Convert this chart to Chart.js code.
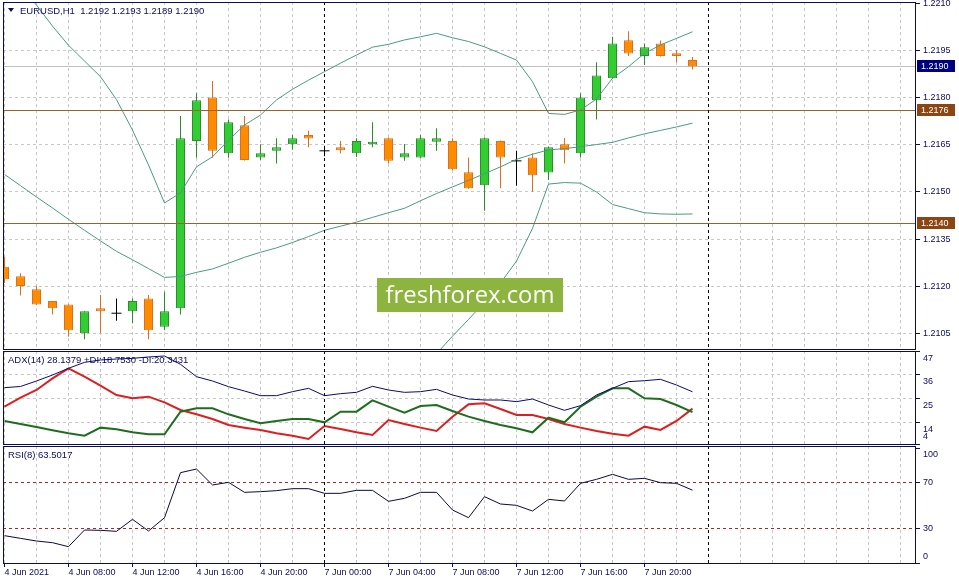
<!DOCTYPE html>
<html lang="en">
<head>
<meta charset="UTF-8">
<title>EURUSD,H1</title>
<script src="https://cdn.jsdelivr.net/npm/chart.js"></script>
<style>
    html, body { margin: 0; padding: 0; background: #ffffff; }
    #wrap { position: relative; width: 959px; height: 585px; overflow: hidden; background: #ffffff; }
    canvas { position: absolute; left: 0; }
</style>
</head>
<body>
<div id="wrap">
    <canvas id="mainChart" width="959" height="351" style="top:0"></canvas>
    <canvas id="adxChart" width="959" height="95" style="top:351px"></canvas>
    <canvas id="rsiChart" width="959" height="139" style="top:446px"></canvas>
</div>
<script>
// ---- data (H1 bars, 4 Jun 2021 04:00 .. 7 Jun 2021 23:00) ----
const xTickLabels = ['4 Jun 2021', '4 Jun 08:00', '4 Jun 12:00', '4 Jun 16:00', '4 Jun 20:00',
    '7 Jun 00:00', '7 Jun 04:00', '7 Jun 08:00', '7 Jun 12:00', '7 Jun 16:00', '7 Jun 20:00'];
const xTickBars = [0, 4, 8, 12, 16, 20, 24, 28, 32, 36, 40];
const daySeparators = [20, 44];

const opens = [1.21262, 1.21232, 1.21190, 1.21153, 1.21142, 1.21050, 1.21130, 1.21114, 1.21120, 1.21161,
    1.21071, 1.21130, 1.21662, 1.21801, 1.21623, 1.21712, 1.21610, 1.21631, 1.21652, 1.21681,
    1.21631, 1.21642, 1.21623, 1.21652, 1.21671, 1.21610, 1.21610, 1.21660, 1.21662, 1.21563,
    1.21521, 1.21662, 1.21599, 1.21610, 1.21562, 1.21652, 1.21623, 1.21792, 1.21862, 1.21983,
    1.21933, 1.21973, 1.21942, 1.21920];
const highs = [1.21294, 1.21241, 1.21201, 1.21153, 1.21142, 1.21120, 1.21172, 1.21161, 1.21161, 1.21172,
    1.21182, 1.21742, 1.21814, 1.21853, 1.21731, 1.21742, 1.21652, 1.21671, 1.21681, 1.21695,
    1.21647, 1.21662, 1.21671, 1.21722, 1.21673, 1.21653, 1.21681, 1.21703, 1.21671, 1.21610,
    1.21673, 1.21664, 1.21631, 1.21623, 1.21644, 1.21672, 1.21814, 1.21913, 1.21994, 1.22012,
    1.21973, 1.21982, 1.21952, 1.21930];
const lows = [1.21210, 1.21170, 1.21140, 1.21110, 1.21039, 1.21031, 1.21050, 1.21090, 1.21082, 1.21031,
    1.21060, 1.21110, 1.21609, 1.21609, 1.21609, 1.21600, 1.21602, 1.21591, 1.21634, 1.21642,
    1.21614, 1.21623, 1.21611, 1.21642, 1.21591, 1.21599, 1.21608, 1.21631, 1.21570, 1.21510,
    1.21440, 1.21512, 1.21520, 1.21501, 1.21538, 1.21591, 1.21610, 1.21731, 1.21860, 1.21933,
    1.21904, 1.21931, 1.21913, 1.21890];
const closes = [1.21222, 1.21201, 1.21142, 1.21130, 1.21060, 1.21120, 1.21120, 1.21114, 1.21153, 1.21060,
    1.21120, 1.21671, 1.21792, 1.21631, 1.21722, 1.21602, 1.21623, 1.21642, 1.21671, 1.21670,
    1.21631, 1.21633, 1.21662, 1.21660, 1.21599, 1.21623, 1.21671, 1.21671, 1.21572, 1.21512,
    1.21671, 1.21610, 1.21599, 1.21553, 1.21642, 1.21633, 1.21801, 1.21871, 1.21973, 1.21941,
    1.21961, 1.21933, 1.21933, 1.21900];

const bbUpper = [1.22223, 1.22156, 1.22095, 1.22028, 1.21967, 1.21917, 1.21867, 1.21794, 1.21697, 1.21586,
    1.21465, 1.21497, 1.21580, 1.21612, 1.21665, 1.21713, 1.21745, 1.21793, 1.21827, 1.21856,
    1.21883, 1.21910, 1.21936, 1.21961, 1.21970, 1.21984, 1.21994, 1.22005, 1.21991, 1.21979,
    1.21962, 1.21941, 1.21920, 1.21851, 1.21750, 1.21747, 1.21761, 1.21796, 1.21862, 1.21899,
    1.21941, 1.21968, 1.21989, 1.22010];
const bbMiddle = [1.21556, 1.21520, 1.21484, 1.21449, 1.21413, 1.21378, 1.21344, 1.21311, 1.21284, 1.21256,
    1.21228, 1.21231, 1.21244, 1.21255, 1.21273, 1.21292, 1.21308, 1.21322, 1.21339, 1.21358,
    1.21378, 1.21391, 1.21404, 1.21419, 1.21434, 1.21448, 1.21472, 1.21495, 1.21516, 1.21537,
    1.21558, 1.21580, 1.21604, 1.21620, 1.21634, 1.21638, 1.21644, 1.21651, 1.21658, 1.21672,
    1.21685, 1.21696, 1.21707, 1.21719];
const bbLower = [1.20889, 1.20884, 1.20873, 1.20870, 1.20859, 1.20839, 1.20821, 1.20828, 1.20871, 1.20926,
    1.20991, 1.20965, 1.20908, 1.20898, 1.20881, 1.20871, 1.20871, 1.20851, 1.20851, 1.20860,
    1.20873, 1.20872, 1.20872, 1.20877, 1.20898, 1.20912, 1.20950, 1.20985, 1.21041, 1.21094,
    1.21150, 1.21210, 1.21280, 1.21384, 1.21525, 1.21530, 1.21528, 1.21500, 1.21460, 1.21447,
    1.21434, 1.21430, 1.21429, 1.21430];

const adx = [30.05, 30.6, 33.13, 35.9, 38.99, 41.76, 42.84, 43.3, 43.61, 44.23,
    44.69, 40.84, 35.13, 33.13, 30.51, 28.5, 26.35, 26.35, 28.2, 29.74,
    26.35, 27.27, 27.89, 30.66, 28.97, 27.89, 28.2, 29.27, 26.66, 24.81,
    24.35, 24.35, 23.58, 24.81, 22.03, 19.57, 21.73, 26.66, 29.74, 32.82,
    33.28, 33.9, 31.28, 28.1379];
const plusDI = [14.64, 13.25, 11.86, 10.32, 8.93, 7.86, 11.56, 10.78, 9.40, 8.47,
    8.47, 18.95, 20.49, 20.49, 17.72, 15.56, 13.56, 14.64, 15.56, 15.56,
    14.02, 18.95, 18.95, 24.19, 21.26, 18.49, 21.57, 22.03, 19.26, 16.64,
    14.64, 12.79, 11.25, 9.40, 16.18, 14.02, 21.26, 25.89, 29.74, 29.74,
    25.12, 24.81, 22.03, 18.7530];
const minusDI = [21.26, 25.42, 28.97, 34.36, 38.99, 35.13, 30.97, 26.66, 25.12, 25.89,
    23.27, 19.72, 17.72, 15.56, 12.79, 11.56, 10.48, 8.93, 7.86, 6.32,
    12.32, 10.94, 9.40, 8.16, 15.10, 13.25, 11.56, 10.01, 16.64, 22.34,
    22.80, 20.18, 17.41, 17.41, 15.56, 13.25, 11.56, 10.01, 8.78, 7.86,
    12.02, 10.48, 14.64, 20.3431];
const rsi = [23.94, 21.6, 19.3, 17.85, 14.37, 28.87, 28.58, 27.71, 38.14, 28.0,
    39.59, 78.72, 81.91, 68.0, 70.32, 61.62, 62.2, 63.07, 64.81, 64.81,
    60.75, 60.75, 63.36, 63.36, 53.8, 56.4, 61.62, 61.62, 46.26, 39.59,
    57.85, 51.48, 50.32, 45.39, 55.53, 54.09, 69.45, 72.93, 77.27, 72.93,
    73.8, 70.03, 69.45, 63.5017];

const priceTicks = [1.2105, 1.2120, 1.2135, 1.2150, 1.2165, 1.2180, 1.2195, 1.2210];
const adxTicks = [4, 14, 25, 36, 47];
const rsiTicks = [0, 30, 70, 100];
const rsiLevels = [30, 70];
const hLevels = [1.2176, 1.2140];
const bidPrice = 1.2190;

// ---- look ----
const NAVY = '#0b0b5e';
const GRID = '#c8c8c8';
const BROWN = '#8b4513';
const LEVEL_LINE = '#9a6228';
const BULL = '#32cd32', BULL_EDGE = '#2e8b2e';
const BEAR = '#ff8c00', BEAR_EDGE = '#d9701c';
const BAND = '#4a9a86';
const FONT = '"Liberation Sans", Arial, sans-serif';
const NONE = 'rgba(0,0,0,0)';

Chart.defaults.font.family = FONT;
Chart.defaults.font.size = 9;
Chart.defaults.color = NAVY;
Chart.defaults.animation = false;
Chart.defaults.events = [];
Chart.defaults.plugins.legend.display = false;
Chart.defaults.plugins.tooltip.enabled = false;

// bar centre lands on half pixels so 1px wicks stay sharp
const X_MIN = -0.09375;
const X_MAX = X_MIN + 913 / 16;
const gridBars = [];
for (let b = 0; b <= 56; b += 2) gridBars.push(b);

const pts = arr => arr.map((v, i) => ({ x: i, y: v }));

function xScale(showLabels) {
    return {
        type: 'linear', min: X_MIN, max: X_MAX, offset: false,
        afterBuildTicks: s => { s.ticks = gridBars.map(v => ({ value: v })); },
        grid: {
            color: GRID, offset: false, drawTicks: showLabels, tickLength: 3,
            tickColor: c => xTickBars.includes(c.tick && c.tick.value) ? NAVY : NONE
        },
        border: { display: false, dash: [3, 3] },
        ticks: {
            display: showLabels, autoSkip: false, maxRotation: 0, minRotation: 0,
            align: 'start', padding: 0, color: NAVY,
            callback: v => { const k = xTickBars.indexOf(v); return k < 0 ? '' : xTickLabels[k]; }
        },
        afterFit: s => {
            s.height = showLabels ? 21 : 0;
            s.paddingLeft = 0; s.paddingRight = 0;
        }
    };
}

function yScale(min, max, ticks, label, gridColor, lineHeight) {
    return {
        position: 'right', min, max,
        afterBuildTicks: s => { s.ticks = ticks.map(v => ({ value: v })); },
        grid: { color: gridColor, tickLength: 4, tickColor: NAVY },
        border: { display: false, dash: [3, 3] },
        ticks: {
            color: NAVY, padding: 3, autoSkip: false,
            font: { size: 9, lineHeight: lineHeight || 1.2 }, callback: label
        },
        afterFit: s => {
            s.width = 43;
            s.paddingTop = 0; s.paddingBottom = 0;
        }
    };
}

function panelPlugin(title, titleX, extra) {
    extra = extra || {};
    return {
        id: 'panel',
        beforeDatasetsDraw(chart) { if (extra.before) extra.before(chart); },
        afterDatasetsDraw(chart) {
            const { ctx, chartArea: a, scales: { x } } = chart;
            ctx.save();
            ctx.beginPath();
            ctx.rect(a.left, a.top, a.right - a.left, a.bottom - a.top);
            ctx.clip();
            if (extra.after) extra.after(chart);
            ctx.strokeStyle = '#000000';
            ctx.lineWidth = 1;
            ctx.setLineDash([3, 3]);
            daySeparators.forEach(b => {
                const px = Math.round(x.getPixelForValue(b) - 0.5) + 0.5;
                ctx.beginPath(); ctx.moveTo(px, a.top); ctx.lineTo(px, a.bottom); ctx.stroke();
            });
            ctx.restore();
        },
        afterDraw(chart) {
            const { ctx, chartArea: a } = chart;
            ctx.save();
            ctx.strokeStyle = NAVY;
            ctx.lineWidth = 1;
            ctx.strokeRect(a.left + 0.5, a.top + 0.5, a.right - a.left - 1, a.bottom - a.top - 1);
            ctx.fillStyle = NAVY;
            ctx.font = '9.5px ' + FONT;
            ctx.textBaseline = 'middle';
            ctx.fillText(title, a.left + titleX, a.top + 9.5);
            ctx.restore();
            if (extra.last) extra.last(chart);
        }
    };
}

function axisBox(chart, value, color) {
    const { ctx, chartArea: a, scales: { y } } = chart;
    const py = Math.round(y.getPixelForValue(value));
    ctx.save();
    ctx.fillStyle = color;
    ctx.fillRect(a.right + 1, py - 6, 38, 12);
    ctx.fillStyle = '#ffffff';
    ctx.font = '9px ' + FONT;
    ctx.textBaseline = 'middle';
    ctx.fillText(value.toFixed(4), a.right + 5, py + 0.5);
    ctx.restore();
}

// ---- main price panel ----
const isDoji = i => opens[i] === closes[i];
const bars = opens.map((o, i) => i);

new Chart(document.getElementById('mainChart'), {
    type: 'bar',
    data: {
        datasets: [
            { type: 'line', data: pts(bbUpper), borderColor: BAND, borderWidth: 1, pointRadius: 0, order: 0 },
            { type: 'line', data: pts(bbMiddle), borderColor: BAND, borderWidth: 1, pointRadius: 0, order: 0 },
            { type: 'line', data: pts(bbLower), borderColor: BAND, borderWidth: 1, pointRadius: 0, order: 0 },
            {
                type: 'line', showLine: false, order: 1,
                data: bars.filter(isDoji).map(i => ({ x: i, y: closes[i] })),
                pointStyle: 'line', pointRadius: 5, pointBorderColor: '#000000', pointBorderWidth: 1
            },
            {
                label: 'body', order: 2, grouped: false, barThickness: 9, borderWidth: 1,
                borderSkipped: false, inflateAmount: 0,
                data: bars.filter(i => !isDoji(i)).map(i => ({ x: i, y: [opens[i], closes[i]] })),
                backgroundColor: c => c.raw && c.raw.y[1] > c.raw.y[0] ? BULL : BEAR,
                borderColor: c => c.raw && c.raw.y[1] > c.raw.y[0] ? BULL_EDGE : BEAR_EDGE
            },
            {
                label: 'wick', order: 3, grouped: false, barThickness: 1, borderWidth: 0, inflateAmount: 0,
                data: bars.map(i => ({ x: i, y: [lows[i], highs[i]] })),
                backgroundColor: c => {
                    const i = c.raw ? c.raw.x : 0;
                    return isDoji(i) ? '#000000' : (closes[i] > opens[i] ? BULL_EDGE : BEAR_EDGE);
                }
            }
        ]
    },
    options: {
        responsive: false,
        layout: { autoPadding: false, padding: { top: 2, left: 3, right: 0, bottom: 1 } },
        scales: {
            x: xScale(false),
            y: yScale(1.2099685, 1.2210478, priceTicks, v => v.toFixed(4),
                c => c.tick && c.tick.value > 1.2205 ? NONE : GRID)
        }
    },
    plugins: [panelPlugin(
        'EURUSD,H1  ' + [opens[43], highs[43], lows[43], closes[43]].map(v => v.toFixed(4)).join(' '), 17, {
        before(chart) {
            const { ctx, chartArea: a, scales: { y } } = chart;
            const py = Math.round(y.getPixelForValue(bidPrice) - 0.5) + 0.5;
            ctx.save();
            ctx.strokeStyle = '#c0c0c0';
            ctx.lineWidth = 1;
            ctx.beginPath(); ctx.moveTo(a.left, py); ctx.lineTo(a.right, py); ctx.stroke();
            ctx.restore();
        },
        after(chart) {
            const { ctx, chartArea: a, scales: { y } } = chart;
            ctx.strokeStyle = LEVEL_LINE;
            ctx.lineWidth = 1;
            hLevels.forEach(v => {
                const py = Math.round(y.getPixelForValue(v) - 0.5) + 0.5;
                ctx.beginPath(); ctx.moveTo(a.left, py); ctx.lineTo(a.right, py); ctx.stroke();
            });
            // watermark
            ctx.fillStyle = '#8cb43f';
            ctx.fillRect(377, 278, 186, 34);
            ctx.fillStyle = '#ffffff';
            ctx.font = '24px "Open Sans", ' + FONT;
            const w = ctx.measureText('freshforex.com').width;
            ctx.font = (24 * 169 / w).toFixed(1) + 'px "Open Sans", ' + FONT;
            ctx.textAlign = 'center';
            ctx.textBaseline = 'alphabetic';
            ctx.fillText('freshforex.com', 470, 303);
        },
        last(chart) {
            const { ctx } = chart;
            ctx.save();
            ctx.fillStyle = NAVY;
            ctx.beginPath(); ctx.moveTo(8, 8); ctx.lineTo(14, 8); ctx.lineTo(11, 12); ctx.closePath(); ctx.fill();
            ctx.restore();
            hLevels.forEach(v => axisBox(chart, v, BROWN));
            axisBox(chart, bidPrice, '#000080');
        }
    })]
});

// ---- ADX panel ----
new Chart(document.getElementById('adxChart'), {
    type: 'line',
    data: {
        datasets: [
            { data: pts(adx), borderColor: '#0a0a6e', borderWidth: 1, pointRadius: 0 },
            { data: pts(plusDI), borderColor: '#1f6e1f', borderWidth: 2, pointRadius: 0 },
            { data: pts(minusDI), borderColor: '#dc1f1f', borderWidth: 2, pointRadius: 0 }
        ]
    },
    options: {
        responsive: false,
        layout: { autoPadding: false, padding: { top: 0, left: 3, right: 0, bottom: 1 } },
        scales: {
            x: xScale(false),
            y: yScale(3.538, 47, adxTicks,
                v => v === 4 ? ['4', ''] : ['', String(v)],
                c => c.tick && (c.tick.value === 4 || c.tick.value === 47) ? NONE : GRID, 1.6)
        }
    },
    plugins: [panelPlugin('ADX(14) ' + adx[43].toFixed(4) + ' +DI:' + plusDI[43].toFixed(4) +
        ' -DI:' + minusDI[43].toFixed(4), 5)]
});

// ---- RSI panel ----
new Chart(document.getElementById('rsiChart'), {
    type: 'line',
    data: {
        datasets: [
            { data: pts(rsi), borderColor: '#0a0a3a', borderWidth: 1, pointRadius: 0 }
        ]
    },
    options: {
        responsive: false,
        layout: { autoPadding: false, padding: { top: 0, left: 3, right: 0, bottom: 0 } },
        scales: {
            x: xScale(true),
            y: yScale(-0.696, 101.913, rsiTicks,
                v => v === 0 ? ['0', ''] : (v === 100 ? ['', '100'] : String(v)),
                c => c.tick && rsiLevels.includes(c.tick.value) ? '#b22222' : NONE, 1.4)
        }
    },
    plugins: [panelPlugin('RSI(8) ' + rsi[43].toFixed(4), 5)]
});
</script>
</body>
</html>
